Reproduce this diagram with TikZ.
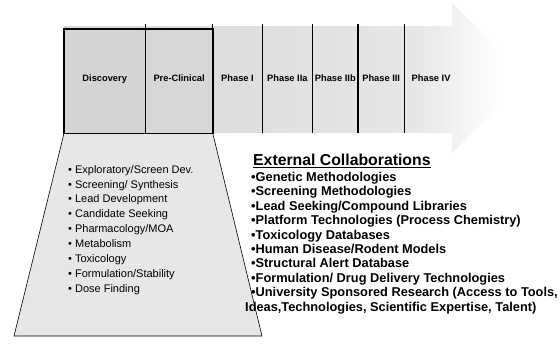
\documentclass[tikz,border=0pt]{standalone}
\usepackage{fontspec}
\setmainfont{Liberation Sans}
\usepackage{tikz}
\usetikzlibrary{positioning}

\pgfdeclarehorizontalshading{pipefade}{100bp}{color(0bp)=(gray!30); color(25bp)=(gray!30); color(41bp)=(gray!27); color(63bp)=(gray!19); color(66bp)=(gray!13); color(72bp)=(white); color(100bp)=(white)}

\begin{document}
\begin{tikzpicture}[x=1pt, y=-1pt,
node distance=0pt,
cell/.style={inner sep=0pt, minimum height=104pt, text height=7pt, text depth=6pt, align=center, font=\fontsize{9.3}{11}\selectfont\bfseries},
divider/.style={line width=1.1pt},
stage/.style={draw=black, line width=1.6pt},
tasklist/.style={inner sep=0pt, anchor=north west, align=left, font=\fontsize{11}{14.9}\selectfont},
collab/.style={inner sep=0pt, anchor=north west, align=left, font=\fontsize{12.8}{14.4}\selectfont\bfseries}
]
\useasboundingbox (0,0) rectangle (560,343);

% pipeline arrow
\shade[shading=pipefade] (64,26) -- (452,26) -- (452,3) -- (528,78) -- (452,153) -- (452,133) -- (64,133) -- cycle;

% stages
\node[cell, minimum width=81pt, fill=gray!34, anchor=north west] (disc) at (64,29) {Discovery};
\node[cell, minimum width=67pt, fill=gray!31, right=of disc] (precl) {Pre-Clinical};
\node[cell, minimum width=49pt, right=of precl] (ph1) {Phase I};
\node[cell, minimum width=50pt, right=of ph1] (ph2a) {Phase IIa};
\node[cell, minimum width=45pt, right=of ph2a] (ph2b) {Phase IIb};
\node[cell, minimum width=46pt, right=of ph2b] (ph3) {Phase III};
\node[cell, minimum width=53pt, right=of ph3] (ph4) {Phase IV};

% early stages funnel
\draw[fill=gray!19, line width=0.6pt] (disc.south west) -- (14,336) -- (262,336) -- (precl.south east) -- cycle;
\draw[stage] (disc.north west) rectangle (precl.south east);

\foreach \c in {disc,precl,ph1,ph2a,ph2b,ph3}
  \draw[divider] (\c.north east) ++(0,-5) -- (\c.south east);

\node[tasklist] (tasks) at (68,165) {%
\textbullet\ Exploratory/Screen Dev.\\
\textbullet\ Screening/ Synthesis\\
\textbullet\ Lead Development\\
\textbullet\ Candidate Seeking\\
\textbullet\ Pharmacology/MOA\\
\textbullet\ Metabolism\\
\textbullet\ Toxicology\\
\textbullet\ Formulation/Stability\\
\textbullet\ Dose Finding};

\node[inner sep=0pt, anchor=base west, font=\fontsize{15.8}{18}\selectfont\bfseries] (ext) at (253,165.5) {\underline{External Collaborations}};

\node[collab] (partners) at (251,172) {%
\textbullet Genetic Methodologies\\
\textbullet Screening Methodologies\\
\textbullet Lead Seeking/Compound Libraries\\
\textbullet Platform Technologies (Process Chemistry)\\
\textbullet Toxicology Databases\\
\textbullet Human Disease/Rodent Models\\
\textbullet Structural Alert Database\\
\textbullet Formulation/ Drug Delivery Technologies\\
\textbullet University Sponsored Research (Access to Tools,\\
\hspace*{-6pt}Ideas,Technologies, Scientific Expertise, Talent)};
\end{tikzpicture}
\end{document}
